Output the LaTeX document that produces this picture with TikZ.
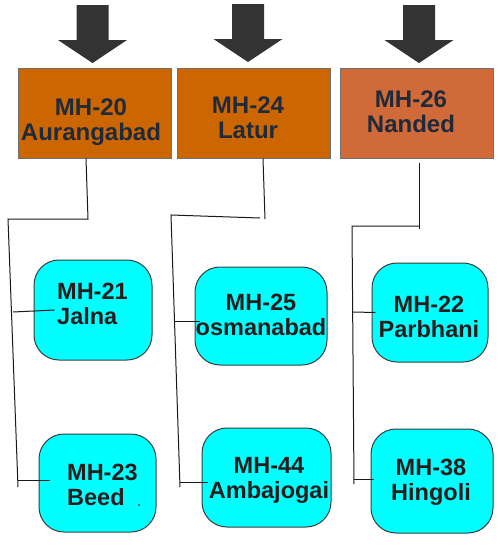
\documentclass[tikz,border=0pt]{standalone}
\usepackage{fontspec}
\setmainfont{Liberation Sans}
\usetikzlibrary{calc}
\definecolor{orA}{HTML}{CC6600}
\definecolor{orB}{HTML}{D06A38}
\definecolor{orEdge}{HTML}{707070}
\definecolor{arrowgray}{HTML}{333333}
\definecolor{navytext}{HTML}{1F2A3A}
\definecolor{browntext}{HTML}{2A1C1C}
\definecolor{cyanfill}{HTML}{00FFFF}
\definecolor{cyEdge}{HTML}{3C3C3C}
\begin{document}
\begin{tikzpicture}[x=1pt,y=-1pt,
  orbox/.style={draw=orEdge, line width=1pt, inner sep=0pt, minimum width=153pt, minimum height=90pt},
  cybox/.style={draw=cyEdge, fill=cyanfill, line width=1pt, rounded corners=25pt, inner sep=0pt},
  ortext/.style={font=\fontsize{24}{25}\selectfont\bfseries, text=navytext, inner sep=0pt, align=center},
  cytext/.style={font=\fontsize{23.5}{24.5}\selectfont\bfseries, text=browntext, inner sep=0pt},
  wire/.style={line width=1pt, draw=black!90},
  downarrow/.pic={\fill[arrowgray] (-16,0) -- (16,0) -- (16,35) -- (34.5,35) -- (0,58) -- (-34.5,35) -- (-16,35) -- cycle;}
]
\useasboundingbox (0,0) rectangle (500,547);

% block arrows
\pic at (92.5,5) {downarrow};
\pic at (248,4) {downarrow};
\pic at (419,5) {downarrow};

% top boxes
\node[orbox, fill=orA] (b20) at (94.5,113) {};
\node[orbox, fill=orA] (b24) at (253.5,113) {};
\node[orbox, fill=orB] (b26) at (416.5,113) {};

% cyan boxes
\node[cybox, minimum width=118pt, minimum height=100pt] (jal) at (93,310) {};
\node[cybox, minimum width=132pt, minimum height=98pt] (osm) at (261,316) {};
\node[cybox, minimum width=116pt, minimum height=99pt] (par) at (430,312.5) {};
\node[cybox, minimum width=117pt, minimum height=98pt] (bee) at (97.5,483) {};
\node[cybox, minimum width=129pt, minimum height=99pt] (amb) at (266.5,477.5) {};
\node[cybox, minimum width=122pt, minimum height=104pt] (hin) at (432,481) {};

% column 1 wires
\coordinate (c1a) at (88,219);
\coordinate (c1b) at (8,219);
\coordinate (c1c) at (18,487);
\coordinate (k21) at (13,312);
\coordinate (k23) at (17.7,480);
\draw[wire] ([xshift=-8.5pt]b20.south) -- (c1a) -- (c1b) -- (c1c);
\draw[wire] (k21) -- ([xshift=21pt]jal.west);
\draw[wire] (k23) -- ([xshift=11pt,yshift=3pt]bee.west);

% column 2 wires
\coordinate (c2a) at (265,219);
\coordinate (c2b) at (260,218);
\coordinate (c2c) at (171,215);
\coordinate (c2d) at (180,487);
\coordinate (k25) at (174.5,321);
\coordinate (k44) at (179.8,482);
\draw[wire] ([xshift=9.5pt]b24.south) -- (c2a);
\draw[wire] (c2b) -- (c2c) -- (c2d);
\draw[wire] (k25) -- ([xshift=5pt,yshift=-5pt]osm.west);
\draw[wire] (k44) -- ([xshift=6pt,yshift=-4.5pt]amb.west);

% column 3 wires
\coordinate (c3a) at (419,229);
\coordinate (c3b) at (419,226);
\coordinate (c3c) at (352,226);
\coordinate (c3d) at (354,484);
\coordinate (k22) at (353,312);
\coordinate (k38) at (354,479);
\draw[wire] ([xshift=2.5pt,yshift=-4pt]b26.south) -- (c3a);
\draw[wire] (c3b) -- (c3c) -- (c3d);
\draw[wire] (k22) -- ([xshift=4pt]par.west);
\draw[wire] (k38) -- ([xshift=3pt,yshift=2pt]hin.west);

% stray dot
\fill[arrowgray] (139,505) circle (1.1pt);

% texts
\node[ortext] (t20) at (91,122.6) {\strut MH-20\\\strut Aurangabad};
\node[ortext] (t24) at (248,120.9) {\strut MH-24\\\strut Latur};
\node[ortext] (t26) at (411,115.1) {\strut MH-26\\\strut Nanded};

\node[cytext, align=left, anchor=west] (t21) at (57,306.9) {\strut MH-21\\\strut Jalna};
\node[cytext, align=center] (t25) at (261,317.9) {\strut MH-25\\\strut osmanabad};
\node[cytext, align=center] (t22) at (429,319.9) {\strut MH-22\\\strut Parbhani};
\node[cytext, align=left, anchor=west] (t23) at (67,488.1) {\strut MH-23\\\strut Beed};
\node[cytext, align=center] (t44) at (269,480.9) {\strut MH-44\\\strut Ambajogai};
\node[cytext, align=center] (t38) at (431,483.1) {\strut MH-38\\\strut Hingoli};
\end{tikzpicture}
\end{document}
